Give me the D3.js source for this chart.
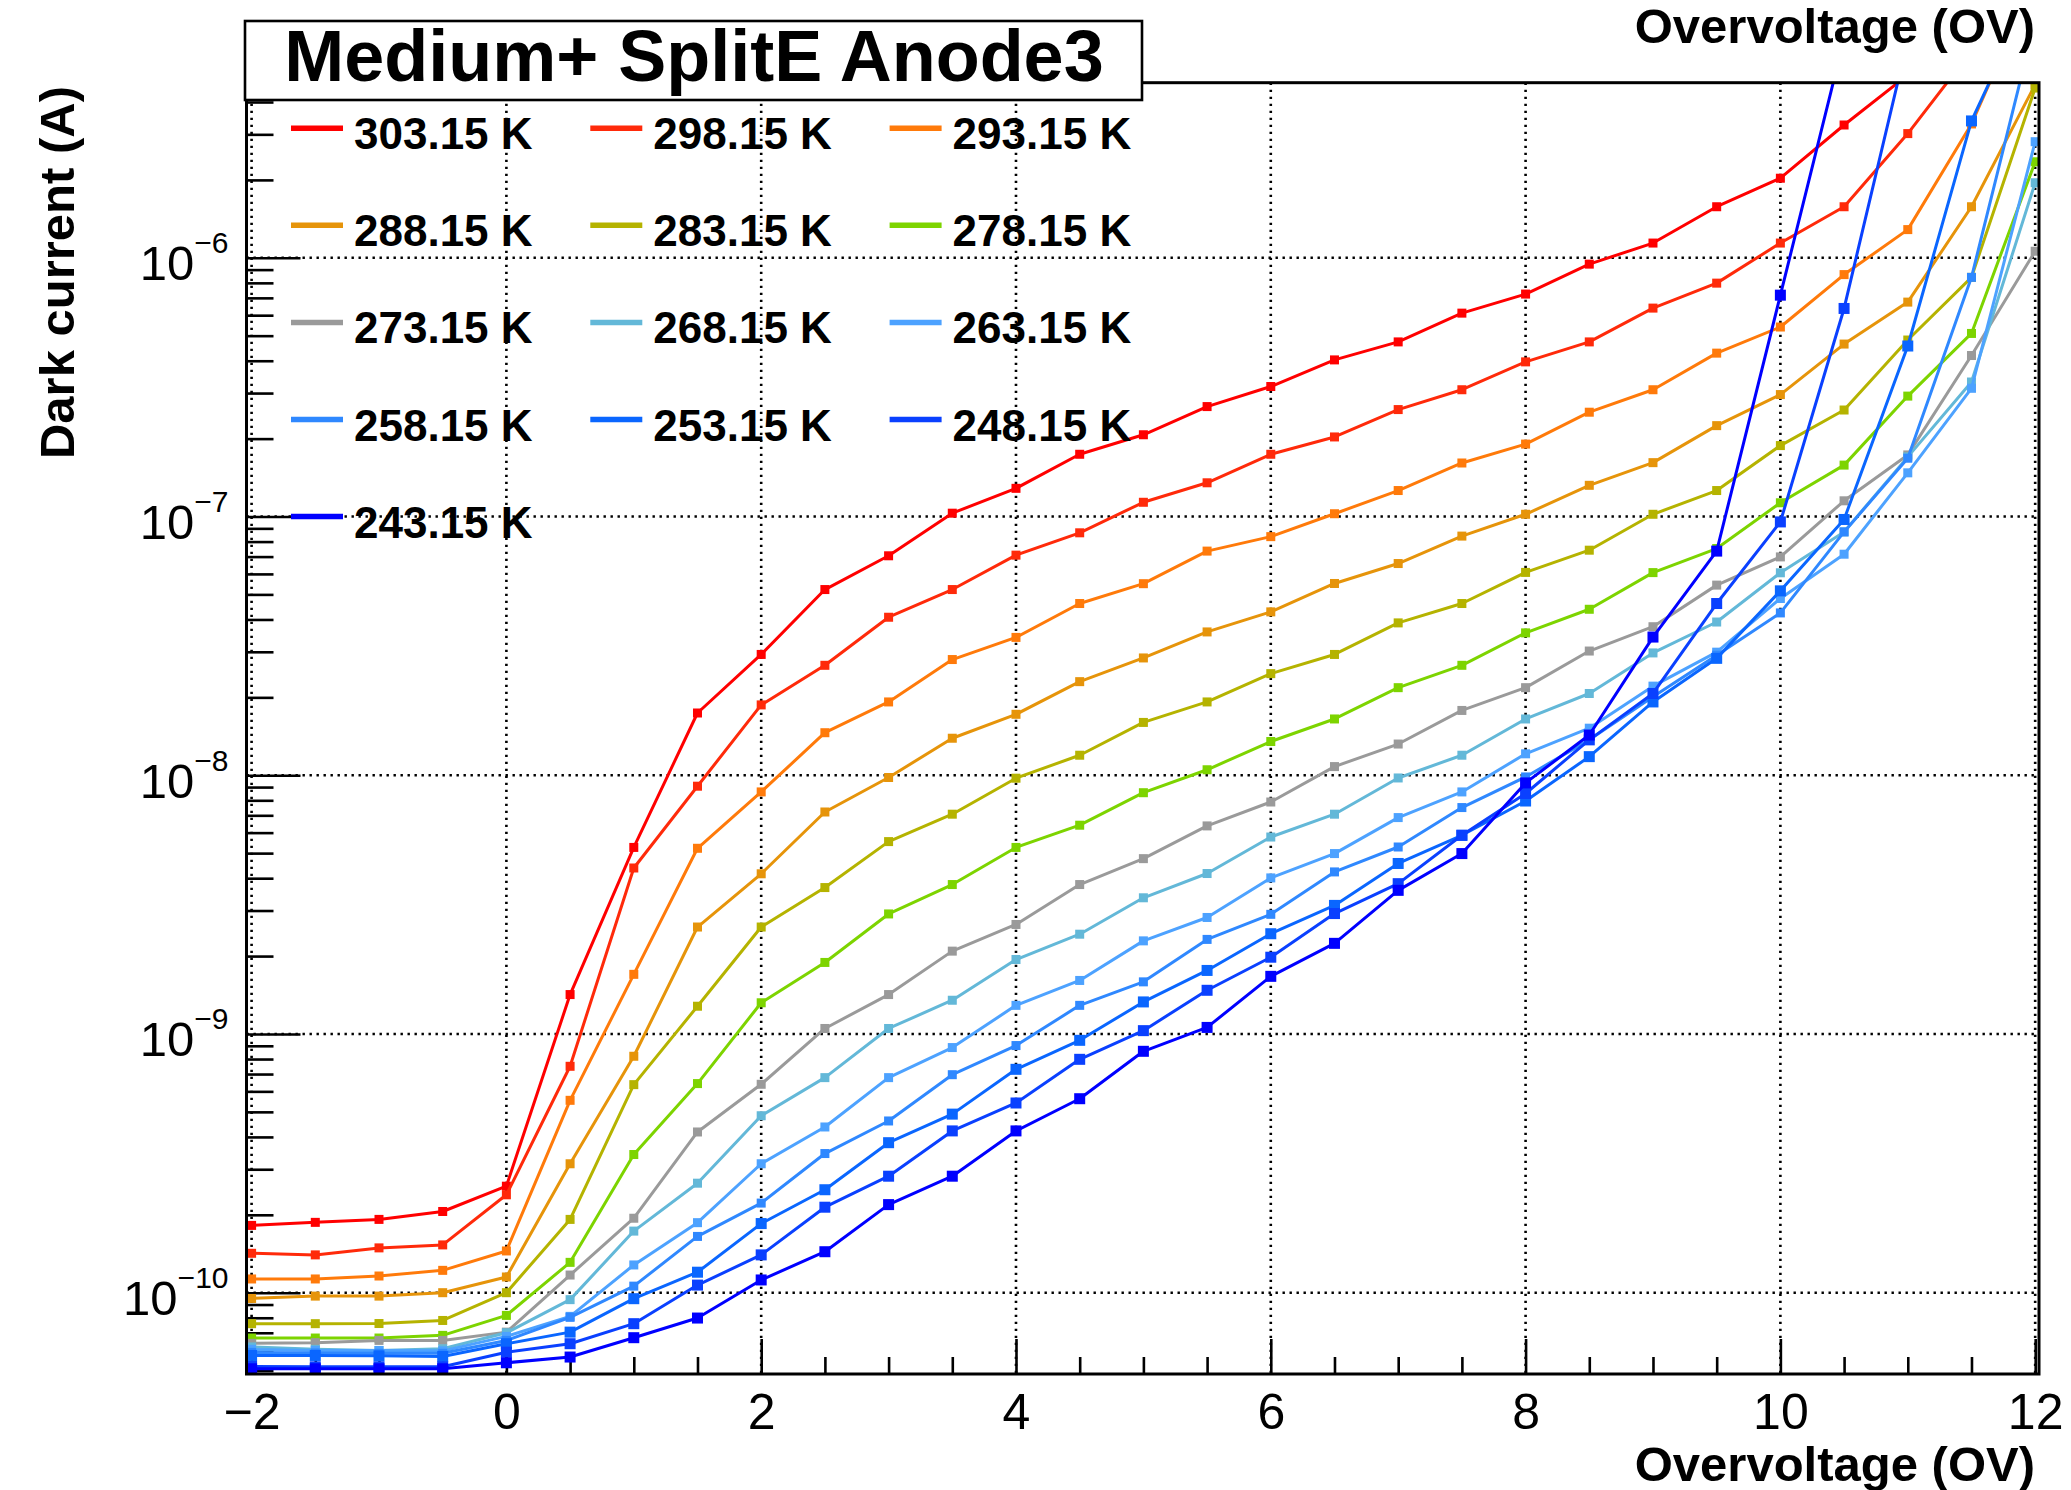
<!DOCTYPE html>
<html>
<head>
<meta charset="utf-8">
<script src="https://cdn.jsdelivr.net/npm/d3@7"></script>
<style>
  body { margin: 0; background: #ffffff; }
  svg { display: block; font-family: "Liberation Sans", Arial, Helvetica, sans-serif; }
</style>
</head>
<body>
<svg id="chart" width="2071" height="1490"></svg>
<script>
// Overvoltage steps (V) shared by every temperature scan
const overvoltage = [-2, -1.5, -1, -0.5, 0, 0.5, 1, 1.5, 2, 2.5, 3, 3.5, 4, 4.5, 5, 5.5,
                     6, 6.5, 7, 7.5, 8, 8.5, 9, 9.5, 10, 10.5, 11, 11.5, 12];

// Dark current (A) per temperature; null = beyond the measured/drawn range
const current303 = [1.82e-10, 1.87e-10, 1.92e-10, 2.06e-10, 2.58e-10, 1.42e-9, 5.26e-9, 1.74e-8, 2.93e-8, 5.22e-8, 7.05e-8, 1.03e-7, 1.285e-7, 1.74e-7, 2.07e-7, 2.66e-7, 3.18e-7, 4.03e-7, 4.73e-7, 6.11e-7, 7.24e-7, 9.45e-7, 1.14e-6, 1.575e-6, 2.03e-6, 3.26e-6, 5.09e-6, null, null];
const current298 = [1.42e-10, 1.40e-10, 1.49e-10, 1.53e-10, 2.39e-10, 7.50e-10, 4.38e-9, 9.07e-9, 1.87e-8, 2.66e-8, 4.08e-8, 5.22e-8, 7.09e-8, 8.65e-8, 1.135e-7, 1.35e-7, 1.74e-7, 2.03e-7, 2.59e-7, 3.09e-7, 3.96e-7, 4.73e-7, 6.39e-7, 7.98e-7, 1.14e-6, 1.575e-6, 3.02e-6, 6.30e-6, null];
const current293 = [1.13e-10, 1.13e-10, 1.16e-10, 1.22e-10, 1.45e-10, 5.54e-10, 1.70e-9, 5.22e-9, 8.62e-9, 1.46e-8, 1.92e-8, 2.80e-8, 3.41e-8, 4.61e-8, 5.50e-8, 7.35e-8, 8.36e-8, 1.025e-7, 1.26e-7, 1.61e-7, 1.905e-7, 2.53e-7, 3.09e-7, 4.28e-7, 5.40e-7, 8.61e-7, 1.285e-6, 3.29e-6, 1.185e-5];
const current288 = [9.5e-11, 9.7e-11, 9.7e-11, 1.0e-10, 1.15e-10, 3.15e-10, 8.20e-10, 2.59e-9, 4.16e-9, 7.21e-9, 9.80e-9, 1.39e-8, 1.72e-8, 2.30e-8, 2.84e-8, 3.58e-8, 4.28e-8, 5.51e-8, 6.58e-8, 8.40e-8, 1.02e-7, 1.32e-7, 1.615e-7, 2.245e-7, 2.96e-7, 4.64e-7, 6.74e-7, 1.575e-6, 4.67e-6];
const current283 = [7.59e-11, 7.59e-11, 7.6e-11, 7.81e-11, 1.0e-10, 1.92e-10, 6.37e-10, 1.28e-9, 2.59e-9, 3.68e-9, 5.54e-9, 7.07e-9, 9.74e-9, 1.195e-8, 1.60e-8, 1.92e-8, 2.47e-8, 2.93e-8, 3.88e-8, 4.61e-8, 6.08e-8, 7.41e-8, 1.02e-7, 1.26e-7, 1.88e-7, 2.58e-7, 4.81e-7, 8.40e-7, 4.53e-6];
const current278 = [6.68e-11, 6.68e-11, 6.68e-11, 6.84e-11, 8.17e-11, 1.31e-10, 3.42e-10, 6.43e-10, 1.32e-9, 1.89e-9, 2.91e-9, 3.78e-9, 5.26e-9, 6.41e-9, 8.56e-9, 1.05e-8, 1.35e-8, 1.65e-8, 2.18e-8, 2.66e-8, 3.55e-8, 4.38e-8, 6.07e-8, 7.52e-8, 1.13e-7, 1.58e-7, 2.92e-7, 5.10e-7, 2.35e-6];
const current273 = [6.37e-11, 6.41e-11, 6.54e-11, 6.54e-11, 7.04e-11, 1.17e-10, 1.94e-10, 4.18e-10, 6.39e-10, 1.05e-9, 1.42e-9, 2.09e-9, 2.65e-9, 3.78e-9, 4.76e-9, 6.37e-9, 7.88e-9, 1.08e-8, 1.32e-8, 1.78e-8, 2.18e-8, 3.02e-8, 3.75e-8, 5.43e-8, 6.98e-8, 1.15e-7, 1.73e-7, 4.19e-7, 1.06e-6];
const current268 = [6.17e-11, 6.04e-11, 5.98e-11, 6.07e-11, 7.0e-11, 9.4e-11, 1.73e-10, 2.65e-10, 4.83e-10, 6.78e-10, 1.05e-9, 1.35e-9, 1.94e-9, 2.43e-9, 3.36e-9, 4.17e-9, 5.77e-9, 7.07e-9, 9.76e-9, 1.195e-8, 1.65e-8, 2.07e-8, 2.97e-8, 3.91e-8, 6.06e-8, 8.72e-8, 1.70e-7, 3.31e-7, 1.95e-6];
const current263 = [6.04e-11, 5.98e-11, 5.98e-11, 5.96e-11, 6.78e-11, 8.1e-11, 1.28e-10, 1.865e-10, 3.15e-10, 4.37e-10, 6.78e-10, 8.86e-10, 1.29e-9, 1.61e-9, 2.29e-9, 2.82e-9, 4.01e-9, 4.98e-9, 6.86e-9, 8.62e-9, 1.21e-8, 1.52e-8, 2.21e-8, 2.99e-8, 4.82e-8, 7.15e-8, 1.475e-7, 3.13e-7, 2.81e-6];
const current258 = [5.88e-11, 5.85e-11, 5.83e-11, 5.83e-11, 6.54e-11, 8.03e-11, 1.06e-10, 1.65e-10, 2.22e-10, 3.45e-10, 4.61e-10, 6.96e-10, 9.02e-10, 1.29e-9, 1.59e-9, 2.32e-9, 2.90e-9, 4.23e-9, 5.28e-9, 7.50e-9, 9.85e-9, 1.37e-8, 2.01e-8, 2.91e-8, 4.24e-8, 8.72e-8, 1.68e-7, 8.40e-7, 8.23e-6];
const current253 = [5.72e-11, 5.72e-11, 5.70e-11, 5.67e-11, 6.35e-11, 7.04e-11, 9.48e-11, 1.20e-10, 1.85e-10, 2.50e-10, 3.80e-10, 4.90e-10, 7.30e-10, 9.45e-10, 1.33e-9, 1.76e-9, 2.44e-9, 3.14e-9, 4.56e-9, 5.86e-9, 7.95e-9, 1.18e-8, 1.92e-8, 2.83e-8, 5.16e-8, 9.74e-8, 4.56e-7, 3.38e-6, 1.14e-5];
const current248 = [5.19e-11, 5.17e-11, 5.17e-11, 5.17e-11, 5.89e-11, 6.35e-11, 7.59e-11, 1.07e-10, 1.40e-10, 2.14e-10, 2.82e-10, 4.22e-10, 5.41e-10, 7.98e-10, 1.03e-9, 1.475e-9, 1.98e-9, 2.92e-9, 3.81e-9, 5.86e-9, 8.50e-9, 1.37e-8, 2.07e-8, 4.61e-8, 9.53e-8, 6.37e-7, 6.95e-6, null, null];
const current243 = [5.08e-11, 5.08e-11, 5.08e-11, 5.08e-11, 5.36e-11, 5.64e-11, 6.70e-11, 7.98e-11, 1.12e-10, 1.44e-10, 2.19e-10, 2.82e-10, 4.22e-10, 5.62e-10, 8.57e-10, 1.06e-9, 1.67e-9, 2.24e-9, 3.59e-9, 4.98e-9, 9.34e-9, 1.43e-8, 3.42e-8, 7.35e-8, 7.17e-7, 7.01e-6, null, null, null];

const temperatureLabels = ["303.15 K", "298.15 K", "293.15 K", "288.15 K", "283.15 K", "278.15 K", "273.15 K",
                           "268.15 K", "263.15 K", "258.15 K", "253.15 K", "248.15 K", "243.15 K"];
const seriesColors = ["#ff0000", "#ff2a0a", "#ff7a0a", "#e6940a", "#b5b300", "#7dd400", "#9a9a9a",
                      "#63b8d8", "#4da2ff", "#2f88ff", "#0a66ff", "#0a40ff", "#0000ff"];
const currents = [current303, current298, current293, current288, current283, current278, current273,
                  current268, current263, current258, current253, current248, current243];

const xMajorTicks = [-2, 0, 2, 4, 6, 8, 10, 12];
const yMajorTicks = [1e-10, 1e-9, 1e-8, 1e-7, 1e-6];

const titleText = "Medium+ SplitE Anode3";
const xTitle = "Overvoltage (OV)";
const yTitle = "Dark current (A)";

// ---------------------------------------------------------------- layout
const W = 2071, H = 1490;
const frame = { left: 246.5, right: 2039, top: 82.7, bottom: 1374 };

const svg = d3.select("#chart");

const x = d3.scaleLinear().domain([-2.04, 12.03]).range([frame.left, frame.right]);
const y = d3.scaleLog().domain([4.85e-11, 4.75e-6]).range([frame.bottom, frame.top]);

svg.append("rect").attr("width", W).attr("height", H).attr("fill", "#ffffff");

svg.append("defs").append("clipPath").attr("id", "frameClip")
  .append("rect")
  .attr("x", frame.left).attr("y", frame.top)
  .attr("width", frame.right - frame.left).attr("height", frame.bottom - frame.top);

// ---------------------------------------------------------------- grid
const grid = svg.append("g").attr("stroke", "#000").attr("stroke-width", 2.6)
  .attr("stroke-dasharray", "2.4,4.6").attr("fill", "none");
grid.selectAll("line.gx").data(xMajorTicks).join("line")
  .attr("x1", d => x(d)).attr("x2", d => x(d))
  .attr("y1", frame.top).attr("y2", frame.bottom);
grid.selectAll("line.gy").data(yMajorTicks).join("line")
  .attr("y1", d => y(d)).attr("y2", d => y(d))
  .attr("x1", frame.left).attr("x2", frame.right);

// ---------------------------------------------------------------- axes
const xMinorTicks = d3.range(-2, 12.01, 0.5).filter(v => !xMajorTicks.includes(v));
const yMinorTicks = [];
for (let e = -11; e <= -6; e++) {
  for (let m = 2; m <= 9; m++) {
    const v = m * Math.pow(10, e);
    if (v > y.domain()[0] && v < y.domain()[1]) yMinorTicks.push(v);
  }
}

const xAxis = svg.append("g").attr("transform", `translate(0,${frame.bottom})`)
  .call(d3.axisBottom(x).tickValues(xMajorTicks).tickSize(-35).tickPadding(19)
        .tickFormat(d3.format("d")));
svg.append("g").attr("transform", `translate(0,${frame.bottom})`)
  .call(d3.axisBottom(x).tickValues(xMinorTicks).tickSize(-17).tickFormat(""));

const yAxis = svg.append("g").attr("transform", `translate(${frame.left},0)`)
  .call(d3.axisLeft(y).tickValues(yMajorTicks).tickSize(-54).tickPadding(18).tickFormat(""));
svg.append("g").attr("transform", `translate(${frame.left},0)`)
  .call(d3.axisLeft(y).tickValues(yMinorTicks).tickSize(-27).tickFormat(""));

svg.selectAll(".domain").remove();
svg.selectAll(".tick line").attr("stroke", "#000").attr("stroke-width", 2.6);

xAxis.selectAll(".tick text")
  .attr("font-family", "Liberation Sans, Arial, sans-serif")
  .attr("font-size", 50).attr("fill", "#000");

// power-of-ten labels: "10" with a raised exponent
yAxis.selectAll(".tick text").each(function (d) {
  const t = d3.select(this).text(null)
    .attr("font-family", "Liberation Sans, Arial, sans-serif")
    .attr("fill", "#000").attr("text-anchor", "end").attr("dy", null).attr("y", 22);
  t.append("tspan").attr("font-size", 49).text("10");
  t.append("tspan").attr("font-size", 30).attr("dy", -27)
    .text("\u2212" + Math.round(-Math.log10(d)));
});

// ---------------------------------------------------------------- series
const plot = svg.append("g").attr("clip-path", "url(#frameClip)");
const line = d3.line()
  .defined(d => d.v != null)
  .x(d => x(d.ov)).y(d => y(d.v));

currents.forEach((vals, i) => {
  const pts = overvoltage.map((ov, j) => ({ ov, v: vals[j] }));
  plot.append("path").datum(pts)
    .attr("fill", "none").attr("stroke", seriesColors[i])
    .attr("stroke-width", 3).attr("stroke-linejoin", "round")
    .attr("d", line);
  const s = i >= 10 ? 11 : 9;
  plot.append("g").selectAll("rect").data(pts.filter(d => d.v != null)).join("rect")
    .attr("x", d => x(d.ov) - s / 2).attr("y", d => y(d.v) - s / 2)
    .attr("width", s).attr("height", s)
    .attr("fill", seriesColors[i]);
});

// ---------------------------------------------------------------- frame
svg.append("rect")
  .attr("x", frame.left).attr("y", frame.top)
  .attr("width", frame.right - frame.left).attr("height", frame.bottom - frame.top)
  .attr("fill", "none").attr("stroke", "#000").attr("stroke-width", 3);

// ---------------------------------------------------------------- legend
const legend = svg.append("g").attr("font-family", "Liberation Sans, Arial, sans-serif")
  .attr("font-weight", "bold").attr("font-size", 44);
temperatureLabels.forEach((lab, i) => {
  const col = i % 3, row = Math.floor(i / 3);
  const lx = 291 + col * 299.3, ly = 128.2 + row * 97.1;
  legend.append("line").attr("x1", lx).attr("x2", lx + 52).attr("y1", ly).attr("y2", ly)
    .attr("stroke", seriesColors[i]).attr("stroke-width", 5.5);
  legend.append("text").attr("x", lx + 63).attr("y", ly + 21).attr("fill", "#000").text(lab);
});

// ---------------------------------------------------------------- titles
svg.append("rect").attr("x", 245).attr("y", 21).attr("width", 897).attr("height", 79)
  .attr("fill", "#fff").attr("stroke", "#000").attr("stroke-width", 2.6);
svg.append("text").attr("x", 694).attr("y", 80.5).attr("text-anchor", "middle")
  .attr("font-weight", "bold").attr("font-size", 72).attr("fill", "#000").text(titleText);

svg.append("text").attr("x", 2035).attr("y", 43).attr("text-anchor", "end")
  .attr("font-weight", "bold").attr("font-size", 49).attr("fill", "#000").text(xTitle);
svg.append("text").attr("x", 2035).attr("y", 1481).attr("text-anchor", "end")
  .attr("font-weight", "bold").attr("font-size", 49).attr("fill", "#000").text(xTitle);

svg.append("text").attr("transform", "translate(74,86) rotate(-90)")
  .attr("text-anchor", "end").attr("font-weight", "bold").attr("font-size", 49)
  .attr("fill", "#000").text(yTitle);
</script>
</body>
</html>
